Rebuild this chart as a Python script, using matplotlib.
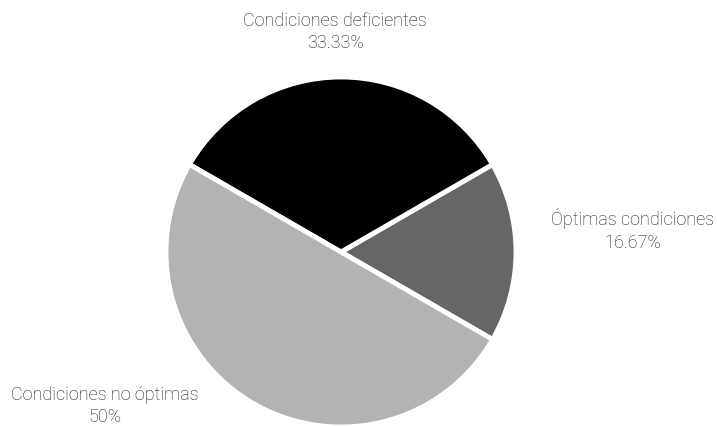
import matplotlib.pyplot as plt

labels = ["Óptimas condiciones", "Condiciones deficientes", "Condiciones no óptimas"]
values = [16.67, 33.33, 50.0]
pct_text = ["16.67%", "33.33%", "50%"]
colors = ["#666666", "#000000", "#b3b3b3"]

# label anchor points in pixel coords (x, y from top)
label_pos = [(633, 230), (335, 32), (105, 406)]

W, H = 717, 426
fig = plt.figure(figsize=(W / 100, H / 100), dpi=100)
ax = fig.add_axes([0, 0, 1, 1])

cx, cy, r = 341, 252, 175
ax.pie(values, colors=colors, startangle=-30, counterclock=True,
       center=(cx, H - cy), radius=r, frame=True,
       wedgeprops=dict(edgecolor="white", linewidth=3.5))

for lab, pct, (x, y) in zip(labels, pct_text, label_pos):
    ax.text(x, H - y, lab + "\n" + pct, ha="center", va="center",
            fontsize=13, family="Roboto", fontweight="light",
            color="#1a1a1a", linespacing=1.3)

ax.set_xlim(0, W)
ax.set_ylim(0, H)
ax.set_aspect("equal")
ax.axis("off")

fig.savefig("out.png", dpi=100)
